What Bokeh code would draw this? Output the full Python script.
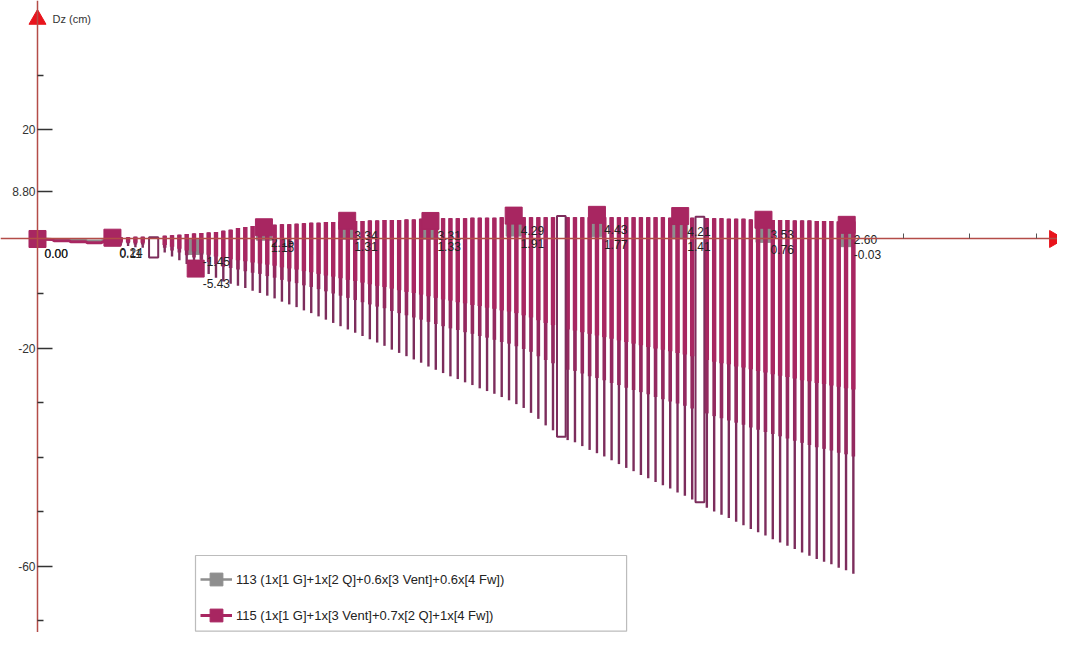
import math
from bokeh.plotting import figure
from bokeh.models import (Range1d, LinearAxis, FixedTicker, Legend, LegendItem,
                          BoxAnnotation, Label)
from bokeh.core.properties import value
from bokeh.embed import file_html
from bokeh.resources import INLINE

# ---------------- data ----------------
# nodes (x in m) and nodal displacements Dz (cm)
node_x = [0.0, 4.5, 9.5, 13.6, 18.6, 23.6, 28.6, 33.6, 38.6, 43.6, 48.6]
s115_node = [0.00, 0.24, -5.43, 2.15, 3.34, 3.31, 4.29, 4.43, 4.21, 3.53, 2.60]
s113_node = [0.00, 0.11, -1.45, 1.15, 1.31, 1.33, 1.91, 1.77, 1.41, 0.76, -0.03]

# lead-in part of the diagram (0 .. 4.5 m)
lead_x = [0.0, 0.9, 1.0, 1.9, 2.0, 2.9, 3.0, 3.8, 4.5]
lead_115 = [0.0, -0.1, -0.3, -0.3, -0.5, -0.5, -0.7, -0.7, 0.24]
lead_113 = [0.0, -0.05, -0.1, -0.1, -0.2, -0.2, -0.3, -0.3, 0.11]

# oscillating part (series 115): position, upper value, end of bright band,
# end of medium band, lower tip
spike_x = [5.00, 5.44, 5.88, 6.32, 7.64, 8.08, 8.52, 8.96, 9.40, 9.84, 10.28, 10.72,
           11.16, 11.60, 12.04, 12.48, 12.92, 13.36, 13.80, 14.24, 14.68, 15.12, 15.56,
           16.00, 16.44, 16.88, 17.32, 17.76, 18.20, 18.64, 19.08, 19.52, 19.96, 20.40,
           20.84, 21.28, 21.72, 22.16, 22.60, 23.04, 23.48, 23.92, 24.36, 24.80, 25.24,
           25.68, 26.12, 26.56, 27.00, 27.44, 27.88, 28.32, 28.76, 29.20, 29.64, 30.08,
           30.52, 30.96, 31.84, 32.28, 32.72, 33.16, 33.60, 34.04, 34.48, 34.92, 35.36,
           35.80, 36.24, 36.68, 37.12, 37.56, 38.00, 38.44, 38.88, 39.32, 40.20, 40.64,
           41.08, 41.52, 41.96, 42.40, 42.84, 43.28, 43.72, 44.16, 44.60, 45.04, 45.48,
           45.92, 46.36, 46.80, 47.24, 47.68, 48.12, 48.56, 49.00]
spike_top = [0.3, 0.3, 0.4, 0.4, 0.6, 0.7, 0.8, 0.9, 1.0, 1.1, 1.2, 1.3,
             1.5, 1.7, 2.0, 2.2, 2.4, 2.5, 2.6, 2.6, 2.7, 2.7, 2.8,
             2.9, 3.0, 3.0, 3.1, 3.1, 3.2, 3.2, 3.3, 3.3, 3.4, 3.4,
             3.5, 3.5, 3.5, 3.6, 3.6, 3.7, 3.7, 3.7, 3.8, 3.8, 3.8,
             3.8, 3.9, 3.9, 3.9, 3.9, 4.0, 4.0, 4.0, 4.0, 4.0, 4.0,
             4.0, 4.0, 4.0, 4.0, 4.0, 4.0, 4.0, 4.0, 4.0, 4.0, 4.0,
             4.0, 4.0, 4.0, 4.0, 4.0, 3.9, 3.9, 3.9, 3.9, 3.8, 3.8,
             3.8, 3.7, 3.7, 3.7, 3.6, 3.6, 3.6, 3.5, 3.5, 3.5, 3.4,
             3.4, 3.4, 3.3, 3.3, 3.3, 3.2, 3.2, 3.2]
spike_band = [-0.5, -0.6, -0.7, -0.7, -1.1, -1.4, -1.8, -2.1, -2.3, -2.6, -2.9, -3.2,
              -3.5, -3.7, -3.9, -4.1, -4.3, -4.5, -4.7, -4.9, -5.2, -5.4, -5.6,
              -5.9, -6.1, -6.4, -6.7, -6.9, -7.2, -7.5, -7.7, -8.0, -8.3, -8.6,
              -8.8, -9.1, -9.4, -9.7, -9.9, -10.2, -10.5, -10.8, -11.1, -11.3, -11.6,
              -11.8, -12.1, -12.3, -12.6, -12.8, -13.1, -13.3, -13.6, -14.0, -14.4, -14.9,
              -15.4, -15.8, -16.6, -16.8, -17.1, -17.4, -17.7, -18.0, -18.3, -18.6, -18.9,
              -19.2, -19.5, -19.8, -20.1, -20.3, -20.6, -20.9, -21.2, -21.5, -22.2, -22.5,
              -22.8, -23.0, -23.4, -23.6, -23.9, -24.2, -24.5, -24.8, -25.1, -25.3, -25.6,
              -25.9, -26.1, -26.4, -26.6, -26.9, -27.1, -27.4, -27.6]
spike_mid = [-0.8, -0.8, -1.0, -1.0, -1.6, -2.1, -2.5, -3.0, -3.4, -3.8, -4.2, -4.6,
             -5.1, -5.3, -5.6, -5.9, -6.2, -6.4, -6.8, -7.1, -7.5, -7.8, -8.1,
             -8.5, -8.8, -9.2, -9.6, -10.0, -10.4, -10.8, -11.2, -11.6, -12.0, -12.4,
             -12.7, -13.2, -13.6, -14.0, -14.4, -14.8, -15.2, -15.6, -16.0, -16.4, -16.7,
             -17.1, -17.4, -17.8, -18.1, -18.5, -18.9, -19.2, -19.7, -20.2, -20.7, -21.5,
             -22.2, -22.8, -24.0, -24.2, -24.7, -25.2, -25.5, -25.9, -26.4, -26.8, -27.3,
             -27.7, -28.1, -28.5, -29.0, -29.4, -29.8, -30.2, -30.6, -31.1, -32.0, -32.5,
             -32.9, -33.3, -33.7, -34.1, -34.6, -35.0, -35.4, -35.8, -36.2, -36.6, -37.0,
             -37.4, -37.8, -38.2, -38.5, -38.8, -39.2, -39.5, -39.9]
spike_tip = [-1.2, -1.3, -1.5, -1.6, -2.5, -3.2, -3.9, -4.6, -5.2, -5.8, -6.4, -7.1,
             -7.8, -8.2, -8.6, -9.0, -9.5, -9.9, -10.4, -10.9, -11.5, -12.0, -12.5,
             -13.1, -13.6, -14.2, -14.8, -15.4, -16.0, -16.6, -17.2, -17.8, -18.4, -19.0,
             -19.6, -20.3, -20.9, -21.5, -22.1, -22.7, -23.4, -24.0, -24.6, -25.2, -25.7,
             -26.3, -26.8, -27.4, -27.9, -28.4, -29.0, -29.6, -30.3, -31.0, -31.9, -33.0,
             -34.2, -35.1, -36.9, -37.3, -38.0, -38.7, -39.3, -39.9, -40.6, -41.3, -42.0,
             -42.6, -43.3, -43.9, -44.6, -45.2, -45.8, -46.5, -47.1, -47.8, -49.3, -50.0,
             -50.6, -51.2, -51.9, -52.5, -53.2, -53.8, -54.4, -55.1, -55.7, -56.3, -56.9,
             -57.5, -58.1, -58.7, -59.2, -59.7, -60.3, -60.8, -61.4]

# wide open loops of the diagram
loop_x0 = [6.70, 31.20, 39.52]
loop_x1 = [7.25, 31.72, 40.05]
loop_top = [0.3, 4.2, 4.1]
loop_bot = [-3.4, -36.3, -48.3]

y_ticks = [20, 8.8, -20, -60]
y_tick_labels = ["20", "8.80", "-20", "-60"]
y_minor = [30, -10, -30, -40, -50, -70]
x_ticks = [52, 56, 60]

label_113 = "113 (1x[1 G]+1x[2 Q]+0.6x[3 Vent]+0.6x[4 Fw])"
label_115 = "115 (1x[1 G]+1x[3 Vent]+0.7x[2 Q]+1x[4 Fw])"

# ---------------- styles ----------------
PURPLE = "#a82661"
MID = "#93295f"
DARK = "#7c2d5c"
GREY = "#8e8e8e"
AXIS = "#b44c48"
RED = "#e8141c"
FONT = "Liberation Sans"

p = figure(width=1057, height=632, x_range=Range1d(-2.222, 61.26),
           y_range=Range1d(-72.2, 43.76), output_backend="svg",
           toolbar_location=None, x_axis_type=None, y_axis_type=None,
           min_border=0)
p.outline_line_color = None
p.background_fill_color = "white"

yax = LinearAxis(fixed_location=0,
                 ticker=FixedTicker(ticks=y_ticks, minor_ticks=y_minor),
                 major_label_overrides=dict(zip(y_ticks, y_tick_labels)),
                 axis_line_color=AXIS, axis_line_width=1.5,
                 major_tick_in=15, major_tick_out=0,
                 minor_tick_in=6, minor_tick_out=0,
                 major_tick_line_color="#333333", minor_tick_line_color="#333333",
                 major_tick_line_width=1.3, minor_tick_line_width=1.3,
                 major_label_text_font=FONT, major_label_text_font_size="12px",
                 major_label_text_color="#333333", major_label_standoff=2)
p.add_layout(yax, "left")

xax = LinearAxis(fixed_location=0, ticker=FixedTicker(ticks=x_ticks),
                 major_label_overrides={t: "" for t in x_ticks},
                 axis_line_color=AXIS, axis_line_width=1.5,
                 major_tick_in=5, major_tick_out=0,
                 major_tick_line_color="#555555", major_tick_line_width=1)
p.add_layout(xax, "below")

# series 113 (grey) underneath
g_line = p.line(lead_x, lead_113, line_color=GREY, line_width=2.5)
g_sq = p.scatter(node_x, s113_node, marker="square", size=15, fill_color=GREY,
                 line_color=GREY)

# series 115
m_line = p.line(lead_x, lead_115, line_color=PURPLE, line_width=3)
p.segment(x0=spike_x, y0=spike_top, x1=spike_x, y1=spike_tip,
          line_color=DARK, line_width=2.4)
p.segment(x0=spike_x, y0=spike_top, x1=spike_x, y1=spike_mid,
          line_color=MID, line_width=3.6)
p.segment(x0=spike_x, y0=spike_top, x1=spike_x, y1=spike_band,
          line_color=PURPLE, line_width=4.4)
p.quad(left=loop_x0, right=loop_x1, top=loop_top, bottom=loop_bot,
       fill_color=None, line_color=DARK, line_width=2)
m_sq = p.scatter(node_x, s115_node, marker="square", size=17, fill_color=PURPLE,
                 line_color=PURPLE)

# value labels
p.text(node_x, s115_node, text=[f"{v:.2f}" for v in s115_node], x_offset=7, y_offset=15,
       text_baseline="middle", text_align="left", text_font=value(FONT),
       text_font_size="12px", text_color="#222222")
p.text(node_x, s113_node, text=[f"{v:.2f}" for v in s113_node], x_offset=7, y_offset=15,
       text_baseline="middle", text_align="left", text_font=value(FONT),
       text_font_size="12px", text_color="#222222")

# axis arrows
p.scatter([0], [40.3], marker="triangle", size=17, fill_color=RED, line_color=RED)
p.scatter([61.08], [0], marker="triangle", size=17, angle=-math.pi / 2,
          fill_color=RED, line_color=RED)
p.add_layout(Label(x=0.9, y=40.4, text="Dz (cm)", text_font=FONT,
                   text_font_size="11px", text_color="#333333",
                   text_baseline="middle", text_align="left"))

# legend
p.add_layout(BoxAnnotation(left=9.49, right=35.38, top=-58.07, bottom=-71.95,
                           fill_color="white", fill_alpha=1,
                           line_color="#222222", line_width=1.2))
legend = Legend(items=[LegendItem(label=label_113, renderers=[g_line, g_sq]),
                       LegendItem(label=label_115, renderers=[m_line, m_sq])],
                location=(200, 0), padding=3, spacing=2, glyph_width=32,
                glyph_height=34, label_standoff=4, border_line_color=None,
                background_fill_alpha=0, label_text_font=FONT,
                label_text_font_size="13px", label_text_color="#222222")
p.add_layout(legend)

open("out.html", "w").write(file_html(p, INLINE))
